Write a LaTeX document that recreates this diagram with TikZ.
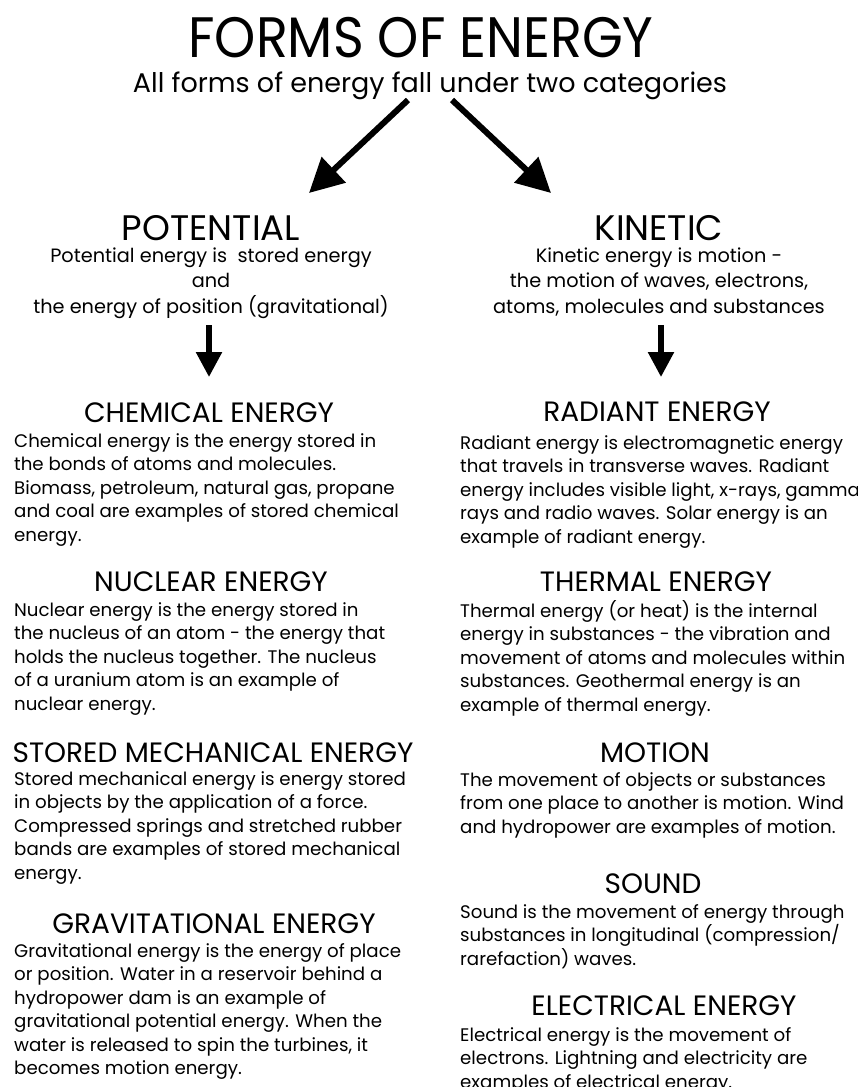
\documentclass[tikz,border=0pt]{standalone}
\usepackage{fontspec}
\setmainfont{Poppins}
\usetikzlibrary{arrows.meta}
\begin{document}
\begin{tikzpicture}[x=1pt,y=-1pt,
  title/.style={anchor=base, inner sep=0pt, font=\fontsize{57}{60}\selectfont},
  subtitle/.style={anchor=base, inner sep=0pt, font=\fontsize{27}{30}\selectfont},
  cat/.style={anchor=base, inner sep=0pt, font=\fontsize{35.5}{38}\selectfont},
  catbody/.style={anchor=base, align=center, inner sep=0pt, font=\fontsize{19.3}{25.5}\selectfont},
  head/.style={anchor=base, inner sep=0pt, font=\fontsize{28}{30}\selectfont},
  body/.style={anchor=base west, align=left, inner sep=0pt, font=\fontsize{18.2}{23.5}\selectfont},
  bigarrow/.style={line width=6pt, -{Triangle[length=34pt,width=34pt]}},
  downarrow/.style={line width=5.5pt, -{Triangle[length=25pt,width=25pt]}}
]
\useasboundingbox (0,0) rectangle (858,1087);
\clip (0,0) rectangle (858,1087);
\fill[white] (0,0) rectangle (858,1087);

\node[title] (title) at (421,57) {\scalebox{0.92}[1]{FORMS OF ENERGY}};
\node[subtitle] (sub) at (430,92) {All forms of energy fall under two categories};

\node[cat] (pot) at (211,240) {POTENTIAL};
\node[cat] (kin) at (659,240) {KINETIC};

\coordinate (la) at (408,100);
\coordinate (lb) at (309,193);
\coordinate (ra) at (452,100);
\coordinate (rb) at (551,193);
\draw[bigarrow] (la) -- (lb);
\draw[bigarrow] (ra) -- (rb);

\node[catbody] (potb) at (211,313) {Potential energy is\ \ stored energy\\and\\the energy of position (gravitational)};
\node[catbody] (kinb) at (659,313) {Kinetic energy is motion -\\the motion of waves, electrons,\\atoms, molecules and substances};

\coordinate (pd1) at (209,325);
\coordinate (pd2) at (209,377);
\coordinate (kd1) at (661,325);
\coordinate (kd2) at (661,377);
\draw[downarrow] (pd1) -- (pd2);
\draw[downarrow] (kd1) -- (kd2);

% left column
\node[head] (h1) at (209,422) {CHEMICAL ENERGY};
\node[body] (b1) at (14,541) {Chemical energy is the energy stored in\\the bonds of atoms and molecules.\\Biomass, petroleum, natural gas, propane\\and coal are examples of stored chemical\\energy.};
\node[head] (h2) at (211,591) {NUCLEAR ENERGY};
\node[body] (b2) at (14,710) {Nuclear energy is the energy stored in\\the nucleus of an atom - the energy that\\holds the nucleus together. The nucleus\\of a uranium atom is an example of\\nuclear energy.};
\node[head] (h3) at (213,762) {STORED MECHANICAL ENERGY};
\node[body] (b3) at (14,879) {Stored mechanical energy is energy stored\\in objects by the application of a force.\\Compressed springs and stretched rubber\\bands are examples of stored mechanical\\energy.};
\node[head] (h4) at (214,933) {GRAVITATIONAL ENERGY};
\node[body] (b4) at (14,1074.5) {Gravitational energy is the energy of place\\or position. Water in a reservoir behind a\\hydropower dam is an example of\\gravitational potential energy. When the\\water is released to spin the turbines, it\\becomes motion energy.};

% right column
\node[head] (h5) at (657,421) {RADIANT ENERGY};
\node[body] (b5) at (460,543) {Radiant energy is electromagnetic energy\\that travels in transverse waves. Radiant\\energy includes visible light, x-rays, gamma\\rays and radio waves. Solar energy is an\\example of radiant energy.};
\node[head] (h6) at (656,591) {THERMAL ENERGY};
\node[body] (b6) at (460,711) {Thermal energy (or heat) is the internal\\energy in substances - the vibration and\\movement of atoms and molecules within\\substances. Geothermal energy is an\\example of thermal energy.};
\node[head] (h7) at (655,762) {MOTION};
\node[body] (b7) at (460,833) {The movement of objects or substances\\from one place to another is motion. Wind\\and hydropower are examples of motion.};
\node[head] (h8) at (653,893) {SOUND};
\node[body] (b8) at (460,965) {Sound is the movement of energy through\\substances in longitudinal (compression/\\rarefaction) waves.};
\node[head] (h9) at (664,1015) {ELECTRICAL ENERGY};
\node[body] (b9) at (460,1088) {Electrical energy is the movement of\\electrons. Lightning and electricity are\\examples of electrical energy.};
\end{tikzpicture}
\end{document}
